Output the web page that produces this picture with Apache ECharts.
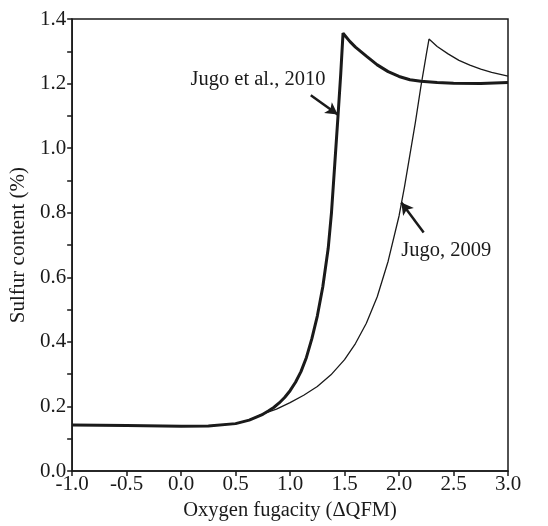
<!DOCTYPE html>
<html>
<head>
<meta charset="utf-8">
<script src="https://cdn.jsdelivr.net/npm/echarts@6/dist/echarts.min.js"></script>
<style>html,body{margin:0;padding:0;background:#fff}#c{width:548px;height:526px}</style>
</head>
<body>
<div id="c"></div>
<script>
// Jugo et al., 2010 (thick)
const xThick = [-1.0,-0.5,0.0,0.25,0.5,0.625,0.75,0.8,0.85,0.9,0.95,1.0,1.05,1.1,1.15,1.2,1.25,1.3,1.35,1.38,1.41,1.44,1.465,1.486,1.55,1.6,1.7,1.8,1.9,2.0,2.1,2.2,2.35,2.5,2.75,3.0];
const yThick = [0.143,0.141,0.139,0.140,0.147,0.158,0.176,0.186,0.197,0.211,0.228,0.249,0.275,0.308,0.352,0.41,0.48,0.57,0.69,0.80,0.95,1.10,1.23,1.356,1.33,1.313,1.285,1.258,1.237,1.222,1.212,1.207,1.203,1.201,1.200,1.203];
// Jugo, 2009 (thin)
const xThin = [-1.0,-0.5,0.0,0.25,0.5,0.625,0.75,0.875,1.0,1.125,1.25,1.375,1.5,1.6,1.7,1.8,1.9,2.0,2.05,2.1,2.15,2.2,2.25,2.275,2.35,2.45,2.55,2.65,2.75,2.85,3.0];
const yThin = [0.143,0.141,0.139,0.140,0.147,0.158,0.177,0.192,0.212,0.235,0.262,0.298,0.345,0.395,0.458,0.54,0.65,0.79,0.88,0.98,1.08,1.19,1.29,1.338,1.315,1.292,1.272,1.257,1.245,1.235,1.223];
const xTicks = [-1.0,-0.5,0.0,0.5,1.0,1.5,2.0,2.5,3.0];
const yTicks = [0.0,0.2,0.4,0.6,0.8,1.0,1.2,1.4];
const labels = [
  {text:'Jugo et al., 2010', x:0.086, y:1.212},
  {text:'Jugo, 2009', x:2.02, y:0.682}
];
const arrows = [
  {from:[1.19,1.164], to:[1.437,1.104]},
  {from:[2.226,0.739], to:[2.021,0.832]}
];

const FONT = '"Liberation Serif","Times New Roman",serif';
const C = '#1a1a1a';
const zip = (xs, ys) => xs.map((x,i)=>[x, ys[i]]);

const chart = echarts.init(document.getElementById('c'), null, {renderer:'canvas'});
const option = {
  animation:false,
  backgroundColor:'#fff',
  grid:{left:72, right:40, top:19, bottom:53, show:true, borderColor:C, borderWidth:1.5, backgroundColor:'transparent'},
  xAxis:{
    type:'value', min:xTicks[0], max:xTicks[xTicks.length-1], interval:0.5,
    name:'Oxygen fugacity (\u0394QFM)', nameLocation:'middle', nameGap:28,
    nameTextStyle:{fontFamily:FONT, fontSize:20.5, color:C},
    axisLine:{show:true, onZero:false, lineStyle:{color:C, width:1.5}},
    axisTick:{show:true, inside:false, length:5, lineStyle:{color:C, width:1.5}},
    axisLabel:{fontFamily:FONT, fontSize:21, color:C, margin:3, formatter:v=>v.toFixed(1)},
    splitLine:{show:false}
  },
  yAxis:{
    type:'value', min:0, max:1.4, interval:0.1,
    name:'Sulfur content (%)', nameLocation:'middle', nameGap:37, nameRotate:90,
    nameTextStyle:{fontFamily:FONT, fontSize:21, color:C},
    axisLine:{show:true, onZero:false, lineStyle:{color:C, width:1.5}},
    axisTick:{show:true, inside:false, length:5, lineStyle:{color:C, width:1.5}},
    axisLabel:{fontFamily:FONT, fontSize:21, color:C, margin:6, showMinLabel:true, showMaxLabel:true,
      formatter:v=>{const r=Math.round(v*10); return (r%2===0 && yTicks.some(t=>Math.abs(t-v)<1e-6)) ? (r/10).toFixed(1) : '';}},
    splitLine:{show:false}
  },
  series:[
    {type:'line', name:'Jugo, 2009', data:zip(xThin,yThin), showSymbol:false, symbol:'none',
     lineStyle:{color:C, width:1.3}, z:2},
    {type:'line', name:'Jugo et al., 2010', data:zip(xThick,yThick), showSymbol:false, symbol:'none',
     lineStyle:{color:C, width:3}, z:3,
     markLine:{silent:true, symbol:['none','arrow'], symbolSize:[10,12], animation:false,
       lineStyle:{color:C, width:2.5, type:'solid'}, label:{show:false},
       data: arrows.map(a=>[{coord:a.from},{coord:a.to}])}
    }
  ]
};
chart.setOption(option);
chart.setOption({
  graphic: labels.map(l=>{
    const p = chart.convertToPixel({gridIndex:0}, [l.x, l.y]);
    return {type:'text', left:p[0], top:p[1]-11, style:{text:l.text, font:'20.5px '+FONT, fill:C}};
  })
});
</script>
</body>
</html>
